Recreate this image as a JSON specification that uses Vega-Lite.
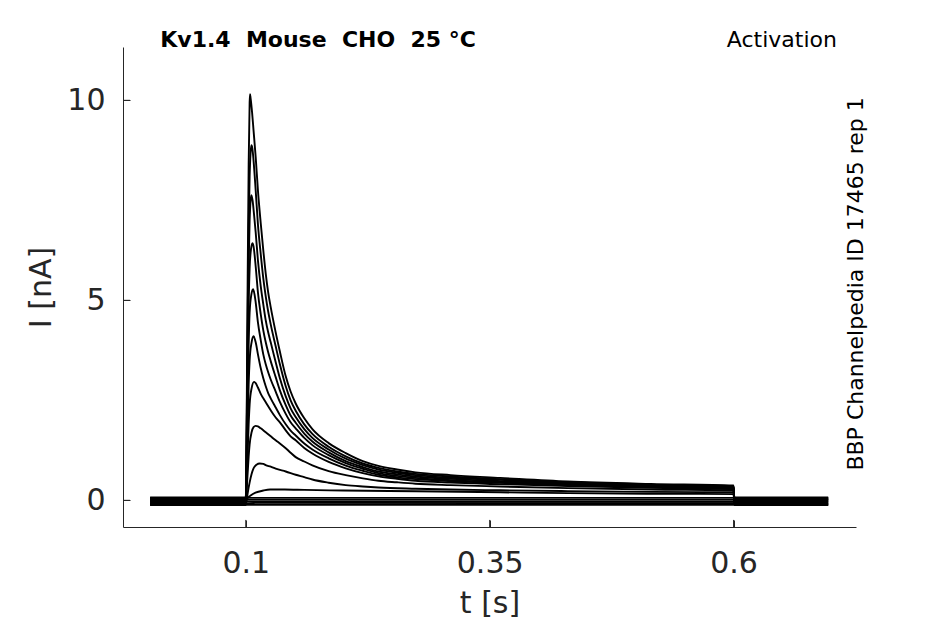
{
  "$schema": "https://vega.github.io/schema/vega-lite/v6.json",
  "width": 733,
  "height": 480,
  "autosize": {"type": "none"},
  "padding": {"left": 123, "top": 47, "right": 89, "bottom": 97},
  "background": "white",
  "datasets": {
    "traces": [
      {"k":1,"t":0.002,"I":-0.02},{"k":1,"t":0.05,"I":-0.02},{"k":1,"t":0.1,"I":-0.02},{"k":1,"t":0.101,"I":2.2},{"k":1,"t":0.102,"I":5.6},{"k":1,"t":0.103,"I":8.4},{"k":1,"t":0.104,"I":9.95},{"k":1,"t":0.1044,"I":10.15},{"k":1,"t":0.105,"I":10.05},{"k":1,"t":0.1065,"I":9.7},{"k":1,"t":0.108,"I":9.25},{"k":1,"t":0.1102,"I":8.58},{"k":1,"t":0.1125,"I":7.75},{"k":1,"t":0.1154,"I":6.92},{"k":1,"t":0.118,"I":6.25},{"k":1,"t":0.1205,"I":5.67},{"k":1,"t":0.123,"I":5.2},{"k":1,"t":0.1256,"I":4.83},{"k":1,"t":0.1307,"I":4.2},{"k":1,"t":0.135,"I":3.72},{"k":1,"t":0.141,"I":3.1},{"k":1,"t":0.146,"I":2.72},{"k":1,"t":0.1512,"I":2.42},{"k":1,"t":0.16,"I":2.05},{"k":1,"t":0.1683,"I":1.78},{"k":1,"t":0.185,"I":1.43},{"k":1,"t":0.2025,"I":1.18},{"k":1,"t":0.22,"I":0.98},{"k":1,"t":0.236,"I":0.86},{"k":1,"t":0.255,"I":0.77},{"k":1,"t":0.274,"I":0.7},{"k":1,"t":0.31,"I":0.63},{"k":1,"t":0.361,"I":0.56},{"k":1,"t":0.43,"I":0.47},{"k":1,"t":0.515,"I":0.41},{"k":1,"t":0.6,"I":0.37},{"k":1,"t":0.6008,"I":-0.02},{"k":1,"t":0.697,"I":-0.02},
      {"k":2,"t":0.002,"I":0.03},{"k":2,"t":0.05,"I":0.03},{"k":2,"t":0.1,"I":0.03},{"k":2,"t":0.101,"I":1.9},{"k":2,"t":0.102,"I":4.6},{"k":2,"t":0.103,"I":6.8},{"k":2,"t":0.104,"I":8.1},{"k":2,"t":0.105,"I":8.7},{"k":2,"t":0.1058,"I":8.88},{"k":2,"t":0.1068,"I":8.8},{"k":2,"t":0.108,"I":8.5},{"k":2,"t":0.1102,"I":7.75},{"k":2,"t":0.1125,"I":6.9},{"k":2,"t":0.1154,"I":6.15},{"k":2,"t":0.118,"I":5.55},{"k":2,"t":0.1205,"I":5.1},{"k":2,"t":0.123,"I":4.72},{"k":2,"t":0.1256,"I":4.4},{"k":2,"t":0.1307,"I":3.85},{"k":2,"t":0.135,"I":3.4},{"k":2,"t":0.141,"I":2.85},{"k":2,"t":0.146,"I":2.5},{"k":2,"t":0.1512,"I":2.24},{"k":2,"t":0.16,"I":1.9},{"k":2,"t":0.1683,"I":1.66},{"k":2,"t":0.185,"I":1.34},{"k":2,"t":0.2025,"I":1.1},{"k":2,"t":0.22,"I":0.92},{"k":2,"t":0.236,"I":0.81},{"k":2,"t":0.255,"I":0.72},{"k":2,"t":0.274,"I":0.66},{"k":2,"t":0.31,"I":0.595},{"k":2,"t":0.361,"I":0.53},{"k":2,"t":0.43,"I":0.45},{"k":2,"t":0.515,"I":0.39},{"k":2,"t":0.6,"I":0.355},{"k":2,"t":0.6008,"I":0.03},{"k":2,"t":0.697,"I":0.03},
      {"k":3,"t":0.002,"I":-0.07},{"k":3,"t":0.05,"I":-0.07},{"k":3,"t":0.1,"I":-0.07},{"k":3,"t":0.101,"I":1.6},{"k":3,"t":0.102,"I":4.0},{"k":3,"t":0.103,"I":5.9},{"k":3,"t":0.104,"I":7.0},{"k":3,"t":0.105,"I":7.5},{"k":3,"t":0.1058,"I":7.63},{"k":3,"t":0.107,"I":7.5},{"k":3,"t":0.1085,"I":7.15},{"k":3,"t":0.1102,"I":6.7},{"k":3,"t":0.1125,"I":6.0},{"k":3,"t":0.1154,"I":5.35},{"k":3,"t":0.118,"I":4.9},{"k":3,"t":0.1205,"I":4.5},{"k":3,"t":0.123,"I":4.2},{"k":3,"t":0.1256,"I":3.95},{"k":3,"t":0.1307,"I":3.45},{"k":3,"t":0.135,"I":3.05},{"k":3,"t":0.141,"I":2.6},{"k":3,"t":0.146,"I":2.3},{"k":3,"t":0.1512,"I":2.08},{"k":3,"t":0.16,"I":1.78},{"k":3,"t":0.1683,"I":1.56},{"k":3,"t":0.185,"I":1.27},{"k":3,"t":0.2025,"I":1.04},{"k":3,"t":0.22,"I":0.88},{"k":3,"t":0.236,"I":0.77},{"k":3,"t":0.255,"I":0.69},{"k":3,"t":0.274,"I":0.63},{"k":3,"t":0.31,"I":0.565},{"k":3,"t":0.361,"I":0.51},{"k":3,"t":0.43,"I":0.43},{"k":3,"t":0.515,"I":0.375},{"k":3,"t":0.6,"I":0.34},{"k":3,"t":0.6008,"I":-0.07},{"k":3,"t":0.697,"I":-0.07},
      {"k":4,"t":0.002,"I":0.05},{"k":4,"t":0.05,"I":0.05},{"k":4,"t":0.1,"I":0.05},{"k":4,"t":0.101,"I":1.3},{"k":4,"t":0.102,"I":3.3},{"k":4,"t":0.103,"I":4.9},{"k":4,"t":0.104,"I":5.8},{"k":4,"t":0.1055,"I":6.3},{"k":4,"t":0.1069,"I":6.43},{"k":4,"t":0.108,"I":6.35},{"k":4,"t":0.1102,"I":5.85},{"k":4,"t":0.1125,"I":5.2},{"k":4,"t":0.1154,"I":4.65},{"k":4,"t":0.118,"I":4.25},{"k":4,"t":0.1205,"I":3.95},{"k":4,"t":0.123,"I":3.7},{"k":4,"t":0.1256,"I":3.48},{"k":4,"t":0.1307,"I":3.08},{"k":4,"t":0.135,"I":2.75},{"k":4,"t":0.141,"I":2.38},{"k":4,"t":0.146,"I":2.12},{"k":4,"t":0.1512,"I":1.94},{"k":4,"t":0.16,"I":1.67},{"k":4,"t":0.1683,"I":1.47},{"k":4,"t":0.185,"I":1.2},{"k":4,"t":0.2025,"I":0.98},{"k":4,"t":0.22,"I":0.83},{"k":4,"t":0.236,"I":0.72},{"k":4,"t":0.255,"I":0.65},{"k":4,"t":0.274,"I":0.595},{"k":4,"t":0.31,"I":0.535},{"k":4,"t":0.361,"I":0.48},{"k":4,"t":0.43,"I":0.41},{"k":4,"t":0.515,"I":0.36},{"k":4,"t":0.6,"I":0.325},{"k":4,"t":0.6008,"I":0.05},{"k":4,"t":0.697,"I":0.05},
      {"k":5,"t":0.002,"I":-0.1},{"k":5,"t":0.05,"I":-0.1},{"k":5,"t":0.1,"I":-0.1},{"k":5,"t":0.101,"I":1.0},{"k":5,"t":0.102,"I":2.6},{"k":5,"t":0.103,"I":3.9},{"k":5,"t":0.104,"I":4.7},{"k":5,"t":0.1058,"I":5.15},{"k":5,"t":0.1075,"I":5.28},{"k":5,"t":0.109,"I":5.15},{"k":5,"t":0.1102,"I":4.95},{"k":5,"t":0.1125,"I":4.45},{"k":5,"t":0.1154,"I":4.0},{"k":5,"t":0.118,"I":3.65},{"k":5,"t":0.1205,"I":3.4},{"k":5,"t":0.123,"I":3.2},{"k":5,"t":0.1256,"I":3.02},{"k":5,"t":0.1307,"I":2.72},{"k":5,"t":0.135,"I":2.46},{"k":5,"t":0.141,"I":2.16},{"k":5,"t":0.146,"I":1.95},{"k":5,"t":0.1512,"I":1.8},{"k":5,"t":0.16,"I":1.56},{"k":5,"t":0.1683,"I":1.38},{"k":5,"t":0.185,"I":1.13},{"k":5,"t":0.2025,"I":0.93},{"k":5,"t":0.22,"I":0.79},{"k":5,"t":0.236,"I":0.68},{"k":5,"t":0.255,"I":0.61},{"k":5,"t":0.274,"I":0.56},{"k":5,"t":0.31,"I":0.505},{"k":5,"t":0.361,"I":0.455},{"k":5,"t":0.43,"I":0.39},{"k":5,"t":0.515,"I":0.345},{"k":5,"t":0.6,"I":0.31},{"k":5,"t":0.6008,"I":-0.1},{"k":5,"t":0.697,"I":-0.1},
      {"k":6,"t":0.002,"I":0.0},{"k":6,"t":0.05,"I":0.0},{"k":6,"t":0.1,"I":0.0},{"k":6,"t":0.101,"I":0.75},{"k":6,"t":0.102,"I":1.9},{"k":6,"t":0.103,"I":2.9},{"k":6,"t":0.104,"I":3.5},{"k":6,"t":0.106,"I":3.95},{"k":6,"t":0.108,"I":4.1},{"k":6,"t":0.1102,"I":3.95},{"k":6,"t":0.1125,"I":3.65},{"k":6,"t":0.1154,"I":3.3},{"k":6,"t":0.118,"I":3.05},{"k":6,"t":0.1205,"I":2.85},{"k":6,"t":0.123,"I":2.68},{"k":6,"t":0.1256,"I":2.55},{"k":6,"t":0.1307,"I":2.32},{"k":6,"t":0.135,"I":2.13},{"k":6,"t":0.141,"I":1.9},{"k":6,"t":0.146,"I":1.74},{"k":6,"t":0.1512,"I":1.62},{"k":6,"t":0.16,"I":1.42},{"k":6,"t":0.1683,"I":1.27},{"k":6,"t":0.185,"I":1.05},{"k":6,"t":0.2025,"I":0.87},{"k":6,"t":0.22,"I":0.74},{"k":6,"t":0.236,"I":0.64},{"k":6,"t":0.255,"I":0.575},{"k":6,"t":0.274,"I":0.53},{"k":6,"t":0.31,"I":0.48},{"k":6,"t":0.361,"I":0.435},{"k":6,"t":0.43,"I":0.375},{"k":6,"t":0.515,"I":0.33},{"k":6,"t":0.6,"I":0.295},{"k":6,"t":0.6008,"I":0.0},{"k":6,"t":0.697,"I":0.0},
      {"k":7,"t":0.002,"I":-0.05},{"k":7,"t":0.05,"I":-0.05},{"k":7,"t":0.1,"I":-0.05},{"k":7,"t":0.101,"I":0.45},{"k":7,"t":0.102,"I":1.2},{"k":7,"t":0.103,"I":1.9},{"k":7,"t":0.104,"I":2.4},{"k":7,"t":0.106,"I":2.8},{"k":7,"t":0.1085,"I":2.96},{"k":7,"t":0.1102,"I":2.93},{"k":7,"t":0.1125,"I":2.82},{"k":7,"t":0.1154,"I":2.66},{"k":7,"t":0.118,"I":2.55},{"k":7,"t":0.1205,"I":2.45},{"k":7,"t":0.1256,"I":2.25},{"k":7,"t":0.1307,"I":2.07},{"k":7,"t":0.135,"I":1.95},{"k":7,"t":0.141,"I":1.75},{"k":7,"t":0.146,"I":1.6},{"k":7,"t":0.1512,"I":1.5},{"k":7,"t":0.16,"I":1.31},{"k":7,"t":0.1683,"I":1.17},{"k":7,"t":0.185,"I":0.96},{"k":7,"t":0.2025,"I":0.8},{"k":7,"t":0.22,"I":0.68},{"k":7,"t":0.236,"I":0.6},{"k":7,"t":0.255,"I":0.54},{"k":7,"t":0.274,"I":0.49},{"k":7,"t":0.31,"I":0.445},{"k":7,"t":0.361,"I":0.405},{"k":7,"t":0.43,"I":0.355},{"k":7,"t":0.515,"I":0.31},{"k":7,"t":0.6,"I":0.28},{"k":7,"t":0.6008,"I":-0.05},{"k":7,"t":0.697,"I":-0.05},
      {"k":8,"t":0.002,"I":0.07},{"k":8,"t":0.05,"I":0.07},{"k":8,"t":0.1,"I":0.07},{"k":8,"t":0.101,"I":0.3},{"k":8,"t":0.102,"I":0.7},{"k":8,"t":0.103,"I":1.1},{"k":8,"t":0.104,"I":1.4},{"k":8,"t":0.106,"I":1.7},{"k":8,"t":0.108,"I":1.83},{"k":8,"t":0.1102,"I":1.86},{"k":8,"t":0.1125,"I":1.85},{"k":8,"t":0.1154,"I":1.8},{"k":8,"t":0.1205,"I":1.7},{"k":8,"t":0.1256,"I":1.6},{"k":8,"t":0.1307,"I":1.5},{"k":8,"t":0.135,"I":1.42},{"k":8,"t":0.141,"I":1.3},{"k":8,"t":0.146,"I":1.19},{"k":8,"t":0.1512,"I":1.08},{"k":8,"t":0.16,"I":0.97},{"k":8,"t":0.1683,"I":0.875},{"k":8,"t":0.185,"I":0.73},{"k":8,"t":0.2025,"I":0.63},{"k":8,"t":0.22,"I":0.55},{"k":8,"t":0.236,"I":0.49},{"k":8,"t":0.255,"I":0.45},{"k":8,"t":0.274,"I":0.415},{"k":8,"t":0.31,"I":0.38},{"k":8,"t":0.361,"I":0.345},{"k":8,"t":0.43,"I":0.305},{"k":8,"t":0.515,"I":0.27},{"k":8,"t":0.6,"I":0.25},{"k":8,"t":0.6008,"I":0.07},{"k":8,"t":0.697,"I":0.07},
      {"k":9,"t":0.002,"I":-0.12},{"k":9,"t":0.05,"I":-0.12},{"k":9,"t":0.1,"I":-0.12},{"k":9,"t":0.101,"I":0.0},{"k":9,"t":0.102,"I":0.18},{"k":9,"t":0.104,"I":0.45},{"k":9,"t":0.106,"I":0.66},{"k":9,"t":0.108,"I":0.8},{"k":9,"t":0.111,"I":0.89},{"k":9,"t":0.1144,"I":0.92},{"k":9,"t":0.118,"I":0.91},{"k":9,"t":0.1205,"I":0.88},{"k":9,"t":0.1256,"I":0.84},{"k":9,"t":0.1307,"I":0.79},{"k":9,"t":0.141,"I":0.72},{"k":9,"t":0.1512,"I":0.64},{"k":9,"t":0.16,"I":0.58},{"k":9,"t":0.1683,"I":0.52},{"k":9,"t":0.185,"I":0.44},{"k":9,"t":0.2025,"I":0.38},{"k":9,"t":0.22,"I":0.345},{"k":9,"t":0.236,"I":0.32},{"k":9,"t":0.274,"I":0.29},{"k":9,"t":0.31,"I":0.27},{"k":9,"t":0.361,"I":0.25},{"k":9,"t":0.43,"I":0.23},{"k":9,"t":0.515,"I":0.21},{"k":9,"t":0.6,"I":0.2},{"k":9,"t":0.6008,"I":-0.12},{"k":9,"t":0.697,"I":-0.12},
      {"k":10,"t":0.002,"I":0.02},{"k":10,"t":0.05,"I":0.02},{"k":10,"t":0.1,"I":0.02},{"k":10,"t":0.102,"I":0.06},{"k":10,"t":0.105,"I":0.12},{"k":10,"t":0.11,"I":0.19},{"k":10,"t":0.118,"I":0.245},{"k":10,"t":0.125,"I":0.27},{"k":10,"t":0.14,"I":0.27},{"k":10,"t":0.16,"I":0.26},{"k":10,"t":0.2,"I":0.245},{"k":10,"t":0.275,"I":0.225},{"k":10,"t":0.361,"I":0.2},{"k":10,"t":0.43,"I":0.18},{"k":10,"t":0.515,"I":0.165},{"k":10,"t":0.6,"I":0.155},{"k":10,"t":0.6008,"I":0.02},{"k":10,"t":0.697,"I":0.02},
      {"k":11,"t":0.002,"I":-0.09},{"k":11,"t":0.1,"I":-0.09},{"k":11,"t":0.11,"I":-0.06},{"k":11,"t":0.35,"I":-0.07},{"k":11,"t":0.6,"I":-0.07},{"k":11,"t":0.6008,"I":-0.09},{"k":11,"t":0.697,"I":-0.09},
      {"k":12,"t":0.002,"I":0.06},{"k":12,"t":0.1,"I":0.06},{"k":12,"t":0.35,"I":0.06},{"k":12,"t":0.6,"I":0.06},{"k":12,"t":0.697,"I":0.06},
      {"k":13,"t":0.002,"I":-0.04},{"k":13,"t":0.1,"I":-0.04},{"k":13,"t":0.35,"I":-0.04},{"k":13,"t":0.6,"I":-0.04},{"k":13,"t":0.697,"I":-0.04},
      {"k":14,"t":0.002,"I":0.01},{"k":14,"t":0.1,"I":0.01},{"k":14,"t":0.35,"I":0.01},{"k":14,"t":0.6,"I":0.01},{"k":14,"t":0.697,"I":0.01},
      {"k":15,"t":0.002,"I":-0.11},{"k":15,"t":0.1,"I":-0.11},{"k":15,"t":0.35,"I":-0.11},{"k":15,"t":0.6,"I":-0.11},{"k":15,"t":0.697,"I":-0.11}
    ],
    "xticks": [{"t": 0.1}, {"t": 0.35}, {"t": 0.6}],
    "yticks": [{"I": 0}, {"I": 5}, {"I": 10}]
  },
  "encoding": {
    "x": {
      "type": "quantitative",
      "scale": {"domain": [-0.0258, 0.7255], "nice": false, "zero": false},
      "axis": {
        "title": "t [s]",
        "values": [0.1, 0.35, 0.6],
        "format": ".2~f",
        "tickSize": -7,
        "labelPadding": 28,
        "titlePadding": 10
      }
    },
    "y": {
      "type": "quantitative",
      "scale": {"domain": [-0.667, 11.333], "nice": false, "zero": false},
      "axis": {
        "title": "I [nA]",
        "values": [0, 5, 10],
        "tickSize": -7,
        "labelPadding": 25,
        "titlePadding": 10
      }
    }
  },
  "layer": [
    {
      "data": {"name": "xticks"},
      "mark": {"type": "rule", "color": "#262626", "strokeWidth": 1},
      "encoding": {
        "x": {"field": "t"},
        "y": {"datum": -0.667},
        "y2": {"datum": -0.49}
      }
    },
    {
      "data": {"name": "yticks"},
      "mark": {"type": "rule", "color": "#262626", "strokeWidth": 1},
      "encoding": {
        "y": {"field": "I"},
        "x": {"datum": -0.0258},
        "x2": {"datum": -0.0186}
      }
    },
    {
      "data": {"name": "traces"},
      "mark": {"type": "line", "interpolate": "monotone", "strokeWidth": 1.9, "color": "black", "clip": true},
      "encoding": {
        "x": {"field": "t"},
        "y": {"field": "I"},
        "detail": {"field": "k", "type": "nominal"}
      }
    },
    {
      "data": {"values": [{}]},
      "mark": {"type": "text", "text": "Kv1.4\u00a0\u00a0Mouse\u00a0\u00a0CHO\u00a0\u00a025 °C", "font": "DejaVu Sans", "fontSize": 22, "fontWeight": "bold", "align": "left", "baseline": "alphabetic", "color": "black", "clip": false},
      "encoding": {"x": {"datum": 0.0124}, "y": {"datum": 11.33}}
    },
    {
      "data": {"values": [{}]},
      "mark": {"type": "text", "text": "Activation", "font": "DejaVu Sans", "fontSize": 22, "align": "right", "baseline": "alphabetic", "color": "black", "clip": false},
      "encoding": {"x": {"datum": 0.706}, "y": {"datum": 11.33}}
    },
    {
      "data": {"values": [{}]},
      "mark": {"type": "text", "text": "BBP Channelpedia ID 17465 rep 1", "font": "DejaVu Sans", "fontSize": 22, "angle": 270, "align": "center", "baseline": "alphabetic", "color": "black", "clip": false},
      "encoding": {"x": {"datum": 0.733}, "y": {"datum": 5.41}}
    }
  ],
  "config": {
    "view": {"stroke": null},
    "axis": {
      "grid": false,
      "domainColor": "#262626",
      "tickColor": "#262626",
      "labelColor": "#262626",
      "titleColor": "#262626",
      "labelFont": "DejaVu Sans",
      "titleFont": "DejaVu Sans",
      "labelFontSize": 30,
      "titleFontSize": 30,
      "titleFontWeight": "normal"
    }
  }
}
